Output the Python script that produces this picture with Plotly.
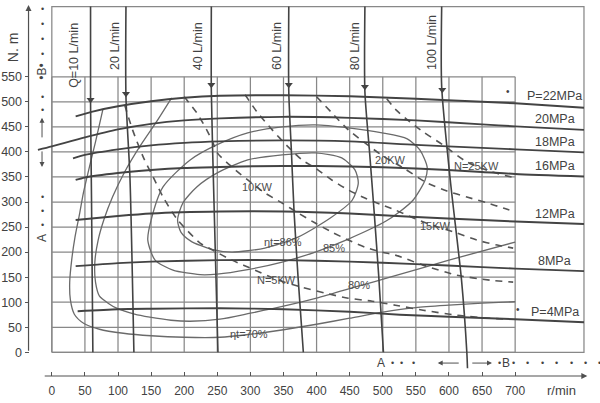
import numpy as np
import plotly.graph_objects as go

# ---------------- chart values (speed in r/min, torque in N.m) ----------------
rpm_ticks = list(range(0, 701, 50))
torque_ticks = list(range(0, 551, 50))

# constant-pressure torque curves
p22_rpm = [36, 60, 100, 150, 200, 254, 350, 450, 550, 650, 700, 804]
p22_torque = [471, 480, 491, 501, 508, 512, 513, 511, 506, 500, 497, 488]
p20_rpm = [-21, 0, 50, 100, 150, 200, 254, 350, 450, 550, 650, 700, 804]
p20_torque = [404, 411, 429, 445, 456, 463, 467, 470, 468, 463, 455, 451, 444]
p18_rpm = [32, 50, 100, 150, 200, 254, 350, 450, 550, 650, 700, 804]
p18_torque = [387, 394, 405, 413, 418, 421, 423, 421, 414, 408, 405, 399]
p16_rpm = [36, 50, 100, 150, 200, 254, 350, 450, 550, 650, 700, 804]
p16_torque = [344, 349, 358, 364, 368, 370, 372, 371, 367, 360, 356, 351]
p12_rpm = [36, 100, 150, 254, 350, 450, 550, 650, 700, 804]
p12_torque = [264, 272, 277, 281, 281, 277, 270, 264, 261, 256]
p8_rpm = [36, 100, 150, 254, 350, 450, 550, 650, 700, 804]
p8_torque = [172, 178, 181, 184, 184, 181, 176, 170, 167, 162]
p4_rpm = [39, 100, 150, 254, 350, 450, 526, 600, 700, 804]
p4_torque = [82, 86, 87, 88, 86, 81, 75, 71, 66, 60]
pressure_names = ["P=22MPa", "20MPa", "18MPa", "16MPa", "12MPa", "8MPa", "P=4MPa"]

# constant-flow lines
q10_rpm = [58.5, 58.5, 60, 62]
q10_torque = [690, 500, 300, 0]
q20_rpm = [112, 112, 118, 124]
q20_torque = [690, 510, 350, 0]
q40_rpm = [241, 241, 245, 251]
q40_torque = [690, 520, 300, 0]
q60_rpm = [358, 358, 362, 366, 372, 380]
q60_torque = [690, 520, 400, 280, 150, 0]
q80_rpm = [473, 473, 480, 487, 494, 501]
q80_torque = [690, 520, 400, 280, 150, 0]
q100_rpm = [589, 589, 602, 619, 627, 628]
q100_torque = [690, 530, 344, 144, 0, -32]
flow_names = ["Q=10 L/min", "20 L/min", "40 L/min", "60 L/min", "80 L/min", "100 L/min"]
flow_arrow_torque = [497, 509, 527, 527, 523, 517]

# constant output power (dashed)
n5_rpm = [110, 122, 138, 153, 168, 189, 204, 224, 243, 272, 307, 340, 378, 413, 448, 484, 519, 561, 612, 662, 690]
n5_torque = [494, 444, 390, 350, 310, 266, 244, 218, 204, 184, 164, 145, 130, 118, 108, 102, 94, 84, 74, 68, 66]
n10_rpm = [200, 219, 234, 243, 250, 272, 296, 322, 348, 372, 398, 423, 448, 473, 499, 519, 561, 612, 662, 697]
n10_torque = [510, 478, 444, 420, 398, 370, 344, 318, 298, 278, 258, 240, 224, 210, 200, 194, 174, 154, 144, 140]
n15_rpm = [292, 311, 333, 357, 378, 398, 423, 448, 473, 499, 519, 550, 579, 612, 642, 673, 697]
n15_torque = [514, 478, 444, 410, 384, 368, 344, 324, 308, 294, 284, 266, 252, 238, 224, 214, 208]
n20_rpm = [400, 423, 448, 473, 500, 531, 567, 597, 627, 658, 682, 700]
n20_torque = [510, 478, 444, 418, 392, 368, 338, 322, 310, 298, 288, 280]
n25_rpm = [506, 520, 541, 561, 591, 627, 660, 700]
n25_torque = [506, 484, 460, 440, 414, 380, 362, 348]
power_names = ["N=5KW", "10KW", "15KW", "20KW", "N=25KW"]
power_label_rpm = [340, 311, 579, 511, 641]

# total efficiency contours
e70_rpm = [77, 66, 57, 48, 42, 35, 30, 27, 28, 34, 48, 72, 108, 150, 200, 254, 300, 350, 400, 450, 500, 550, 600, 650, 700]
e70_torque = [484, 420, 371, 320, 277, 230, 184, 140, 105, 76, 58, 46, 38, 33, 30, 30, 36, 45, 56, 68, 80, 89, 94, 98, 101]
e80_rpm = [181, 158, 133, 110, 92, 79, 70, 65, 66, 72, 85, 98, 125, 148, 180, 209, 254, 300, 350, 400, 463, 511, 600, 700]
e80_torque = [508, 460, 411, 360, 311, 266, 224, 180, 140, 112, 98, 88, 76, 70, 64, 62, 66, 78, 92, 108, 132, 150, 184, 220]
e85_rpm = [145, 150, 168, 209, 249, 296, 348, 398, 448, 499, 537, 556, 567, 564, 546, 525, 505, 448, 398, 348, 296, 250, 224, 183, 156, 145]
e85_torque = [224, 264, 330, 384, 414, 438, 450, 454, 448, 438, 426, 404, 370, 344, 304, 280, 262, 226, 200, 180, 165, 156, 155, 164, 184, 224]
e86_rpm = [190, 198, 219, 250, 296, 348, 398, 438, 458, 463, 454, 423, 372, 322, 272, 240, 210, 195, 190]
e86_torque = [264, 298, 330, 358, 384, 394, 398, 388, 364, 338, 304, 270, 230, 208, 200, 206, 222, 240, 264]
efficiency_names = ["ηt=86%", "85%", "80%", "ηt=70%"]
efficiency_label_at = [(349, 220), (426, 208), (464, 134), (298, 36)]

# ---------------- styling / layout ----------------
FONT = "Liberation Sans, Arial, sans-serif"
INK = "#424242"
GRID = "#888888"
DARK = "#434343"
SOFT = "#6a6a6a"

X_RANGE = [-78.3, 828.2]      # full canvas width in r/min
Y_RANGE = [-101.2, 703.2]     # full canvas height in N.m
FRAME_RPM, FRAME_TORQUE = 804, 690
Y_AXIS_AT = -35.2             # r/min position of the torque axis
X_AXIS_AT = -47.3             # N.m position of the speed axis


def xfrac(v):
    return (v - X_RANGE[0]) / (X_RANGE[1] - X_RANGE[0])


def yfrac(v):
    return (v - Y_RANGE[0]) / (Y_RANGE[1] - Y_RANGE[0])


fig = go.Figure()


def curve(x, y, color, width, dash="solid", smooth=True):
    fig.add_trace(go.Scatter(
        x=x, y=y, mode="lines", hoverinfo="skip", showlegend=False,
        line=dict(color=color, width=width, dash=dash,
                  shape="spline" if smooth else "linear", smoothing=0.7)))


# grid and frame
gx, gy = [], []
for r in rpm_ticks:
    gx += [r, r, None]
    gy += [0, torque_ticks[-1], None]
for t in torque_ticks:
    gx += [0, rpm_ticks[-1], None]
    gy += [t, t, None]
gx += [0, 0, FRAME_RPM, FRAME_RPM, 0]
gy += [0, FRAME_TORQUE, FRAME_TORQUE, 0, 0]
curve(gx, gy, GRID, 1.25, smooth=False)

# efficiency contours
for xs, ys in [(e70_rpm, e70_torque), (e80_rpm, e80_torque),
               (e85_rpm, e85_torque), (e86_rpm, e86_torque)]:
    curve(xs, ys, SOFT, 1.3)

# power curves
power_series = [(n5_rpm, n5_torque), (n10_rpm, n10_torque), (n15_rpm, n15_torque),
                (n20_rpm, n20_torque), (n25_rpm, n25_torque)]
for xs, ys in power_series:
    curve(xs, ys, "#555555", 1.6, dash="7px,6px")

# pressure curves
pressure_series = [(p22_rpm, p22_torque), (p20_rpm, p20_torque), (p18_rpm, p18_torque),
                   (p16_rpm, p16_torque), (p12_rpm, p12_torque), (p8_rpm, p8_torque),
                   (p4_rpm, p4_torque)]
for xs, ys in pressure_series:
    curve(xs, ys, DARK, 1.9)

# flow lines with their arrowheads
flow_series = [(q10_rpm, q10_torque), (q20_rpm, q20_torque), (q40_rpm, q40_torque),
               (q60_rpm, q60_torque), (q80_rpm, q80_torque), (q100_rpm, q100_torque)]
for xs, ys in flow_series:
    curve(xs, ys, DARK, 1.6)
ax_rpm = [float(np.interp(t, ys[::-1], xs[::-1])) for (xs, ys), t in zip(flow_series, flow_arrow_torque)]
fig.add_trace(go.Scatter(
    x=ax_rpm, y=[t + 7 for t in flow_arrow_torque], mode="markers", hoverinfo="skip",
    showlegend=False, marker=dict(symbol="triangle-down", size=7, color=DARK)))

annotations = []


def note(x, y, text, size, angle=0, color=INK, **kw):
    annotations.append(dict(x=x, y=y, xref="x", yref="y", text=text, showarrow=False,
                            textangle=angle, font=dict(family=FONT, size=size, color=color), **kw))


def arrow(x0, y0, x1, y1, width=1.1, head=2, size=1.0):
    annotations.append(dict(x=x1, y=y1, ax=x0, ay=y0, xref="x", yref="y", axref="x", ayref="y",
                            text="", showarrow=True, arrowhead=head, arrowsize=size,
                            arrowwidth=width, arrowcolor="#505050"))


# pressure labels at the right margin
for name, (xs, ys) in zip(pressure_names, pressure_series):
    note(760, float(np.interp(762, xs, ys)) + 19, name, 12.5)
note(689, float(np.interp(689, p22_rpm, p22_torque)) + 22, "•", 10)
note(704, float(np.interp(704, p4_rpm, p4_torque)) + 19, "•", 10)

# flow labels, rotated beside each line
flow_label_shift = [-24, -17, -20, -18, -15, -15]
flow_label_torque = [593, 611, 611, 611, 611, 619]
for name, (xs, ys), dx, ty in zip(flow_names, flow_series, flow_label_shift, flow_label_torque):
    note(xs[0] + dx, ty, name, 12.5, angle=-90)

# power labels on their curves
for name, (xs, ys), r in zip(power_names, power_series, power_label_rpm):
    note(r, float(np.interp(r, xs, ys)), name, 11, color="#4d4d4d")

# efficiency labels
for name, (r, t) in zip(efficiency_names, efficiency_label_at):
    note(r, t, name, 11, color="#4d4d4d")

# axes with arrowheads
arrow(Y_AXIS_AT, 0, Y_AXIS_AT, 693, width=1.2)
arrow(-13, X_AXIS_AT, 809, X_AXIS_AT, width=1.2)
note(-58.6, 609, "N. m", 14, angle=-90)
note(770, -76.5, "r/min", 13)

# rotation-direction markers beside the torque axis
col = -14.8
for t in [686, 656, 626, 596, 510, 484, 310, 282, 254]:
    note(col, t, "•", 9)
note(col, 560, "•B•", 12, angle=-90)
arrow(col, 426, col, 468, width=1.0)
arrow(col, 404, col, 370, width=1.0)
note(col, 228, "A", 12, angle=-90)

# rotation-direction markers under the grid
row = -21.5
note(497, row, "A", 12)
for r in [514, 529, 546, 676, 697, 719, 741, 763, 785, 807, 828]:
    note(r, row, "•", 9)
note(686, row, "B", 12)
arrow(617, row, 583, row, width=1.0)
arrow(633, row, 665, row, width=1.0)

fig.update_layout(
    width=600, height=403, margin=dict(l=0, r=0, t=0, b=0),
    template="none", paper_bgcolor="white", plot_bgcolor="white",
    showlegend=False, annotations=annotations,
    xaxis=dict(range=X_RANGE, domain=[0, 1], tickvals=rpm_ticks, ticks="inside", ticklen=4,
               tickwidth=1, tickcolor="#555555", showgrid=False, zeroline=False,
               showline=False, anchor="free", position=yfrac(X_AXIS_AT), automargin=False,
               tickfont=dict(family=FONT, size=12, color=INK), ticklabelstandoff=6,
               fixedrange=True),
    yaxis=dict(range=Y_RANGE, domain=[0, 1], tickvals=torque_ticks, ticks="outside", ticklen=4,
               tickwidth=1, tickcolor="#555555", showgrid=False, zeroline=False,
               showline=False, anchor="free", position=xfrac(Y_AXIS_AT), automargin=False,
               tickfont=dict(family=FONT, size=12.5, color=INK), fixedrange=True),
)

fig.write_html("out.html")
